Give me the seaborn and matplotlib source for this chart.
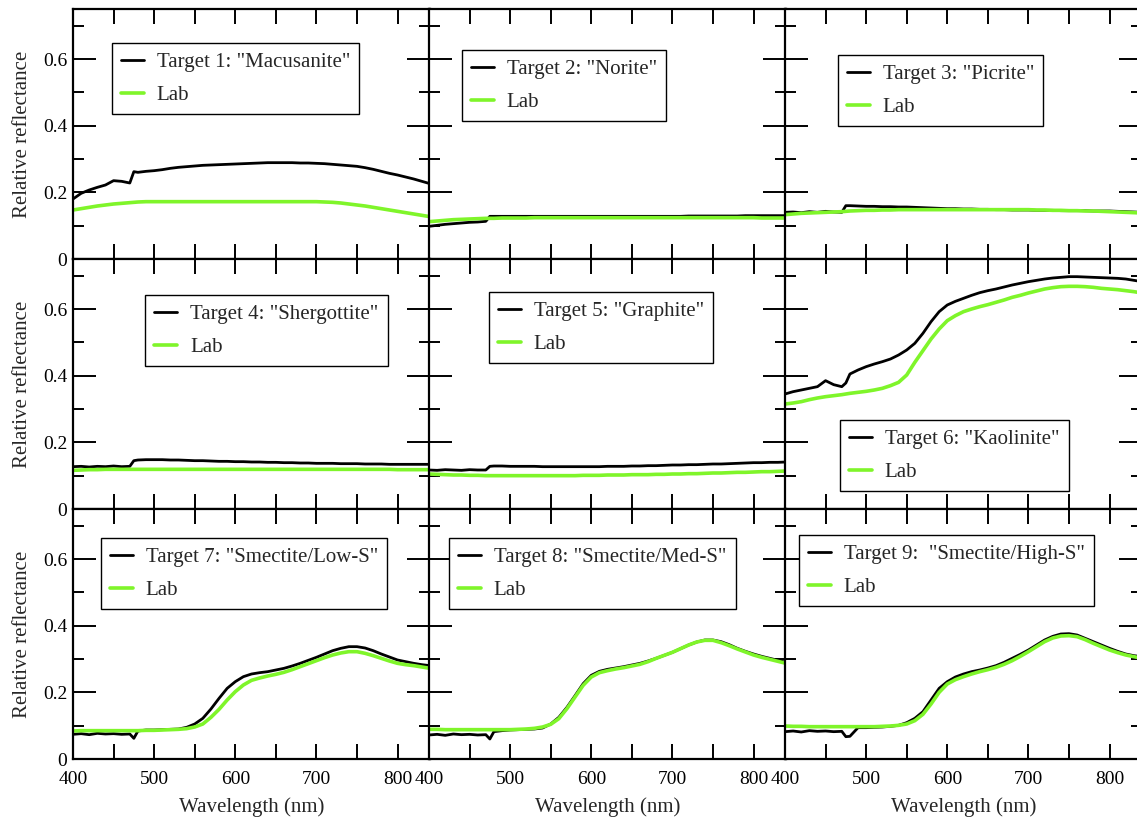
import matplotlib
matplotlib.use("Agg")
import matplotlib.pyplot as plt
import seaborn as sns
from matplotlib.ticker import MultipleLocator, FixedFormatter, FixedLocator

sns.set_theme(style="ticks")
plt.rcParams["font.family"] = ["Liberation Serif", "DejaVu Serif"]

# wavelength grid (nm) at ~10 nm steps
WAVELENGTH = [400, 410, 420, 430, 440, 450, 460, 470, 475,
              480, 490, 500, 510, 520, 530, 540, 550, 560, 570,
              580, 590, 600, 610, 620, 630, 640, 650, 660, 670,
              680, 690, 700, 710, 720, 730, 740, 750, 760, 770,
              780, 790, 800, 810, 820, 830, 840]

LABELS = ['Target 1: "Macusanite"', 'Target 2: "Norite"', 'Target 3: "Picrite"',
          'Target 4: "Shergottite"', 'Target 5: "Graphite"', 'Target 6: "Kaolinite"',
          'Target 7: "Smectite/Low-S"', 'Target 8: "Smectite/Med-S"',
          'Target 9:  "Smectite/High-S"']

target_1 = [0.180, 0.197, 0.207, 0.215, 0.222, 0.235, 0.233, 0.228, 0.262,
            0.260, 0.263, 0.265, 0.268, 0.272, 0.275, 0.277, 0.279, 0.281, 0.282,
            0.283, 0.284, 0.285, 0.286, 0.287, 0.288, 0.289, 0.289, 0.289, 0.289,
            0.288, 0.288, 0.287, 0.286, 0.284, 0.282, 0.280, 0.278, 0.274, 0.269,
            0.263, 0.257, 0.252, 0.246, 0.240, 0.233, 0.226]
lab_1 = [0.147, 0.151, 0.155, 0.159, 0.162, 0.165, 0.167, 0.169, 0.170,
         0.171, 0.172, 0.172, 0.172, 0.172, 0.172, 0.172, 0.172, 0.172, 0.172,
         0.172, 0.172, 0.172, 0.172, 0.172, 0.172, 0.172, 0.172, 0.172, 0.172,
         0.172, 0.172, 0.172, 0.171, 0.170, 0.168, 0.165, 0.162, 0.159, 0.155,
         0.151, 0.147, 0.143, 0.139, 0.135, 0.131, 0.127]

target_2 = [0.098, 0.101, 0.104, 0.106, 0.108, 0.110, 0.111, 0.113, 0.128,
            0.128, 0.128, 0.128, 0.128, 0.128, 0.128, 0.128, 0.128, 0.128, 0.128,
            0.128, 0.128, 0.128, 0.128, 0.128, 0.128, 0.128, 0.128, 0.128, 0.128,
            0.128, 0.128, 0.128, 0.128, 0.129, 0.129, 0.129, 0.129, 0.129, 0.129,
            0.129, 0.130, 0.130, 0.130, 0.130, 0.130, 0.130]
lab_2 = [0.112, 0.114, 0.116, 0.118, 0.119, 0.120, 0.121, 0.122, 0.122,
         0.122, 0.123, 0.123, 0.123, 0.123, 0.124, 0.124, 0.124, 0.124, 0.124,
         0.124, 0.124, 0.124, 0.124, 0.124, 0.124, 0.124, 0.124, 0.124, 0.124,
         0.124, 0.124, 0.124, 0.124, 0.124, 0.124, 0.124, 0.124, 0.124, 0.124,
         0.124, 0.124, 0.124, 0.123, 0.123, 0.123, 0.123]

target_3 = [0.140, 0.141, 0.139, 0.142, 0.140, 0.143, 0.141, 0.140, 0.160,
            0.160, 0.159, 0.158, 0.158, 0.157, 0.157, 0.156, 0.156, 0.155, 0.154,
            0.153, 0.152, 0.151, 0.151, 0.150, 0.150, 0.149, 0.149, 0.148, 0.148,
            0.147, 0.147, 0.147, 0.146, 0.146, 0.146, 0.145, 0.145, 0.145, 0.145,
            0.144, 0.144, 0.144, 0.143, 0.142, 0.141, 0.140]
lab_3 = [0.133, 0.135, 0.137, 0.138, 0.139, 0.140, 0.141, 0.142, 0.143,
         0.144, 0.145, 0.146, 0.146, 0.147, 0.147, 0.148, 0.148, 0.148, 0.148,
         0.148, 0.148, 0.148, 0.148, 0.148, 0.148, 0.148, 0.148, 0.148, 0.148,
         0.148, 0.148, 0.148, 0.147, 0.147, 0.146, 0.146, 0.145, 0.145, 0.144,
         0.144, 0.143, 0.142, 0.141, 0.140, 0.139, 0.138]

target_4 = [0.127, 0.128, 0.126, 0.128, 0.127, 0.129, 0.127, 0.128, 0.145,
            0.147, 0.148, 0.148, 0.148, 0.147, 0.147, 0.146, 0.145, 0.145, 0.144,
            0.143, 0.143, 0.142, 0.142, 0.141, 0.141, 0.140, 0.140, 0.139, 0.139,
            0.138, 0.138, 0.137, 0.137, 0.137, 0.136, 0.136, 0.136, 0.135, 0.135,
            0.135, 0.134, 0.134, 0.134, 0.134, 0.134, 0.134]
lab_4 = [0.116, 0.117, 0.118, 0.118, 0.119, 0.119, 0.119, 0.119, 0.119,
         0.119, 0.119, 0.119, 0.119, 0.119, 0.119, 0.119, 0.119, 0.119, 0.119,
         0.119, 0.119, 0.119, 0.119, 0.119, 0.119, 0.119, 0.119, 0.119, 0.119,
         0.119, 0.119, 0.119, 0.119, 0.119, 0.119, 0.119, 0.119, 0.119, 0.119,
         0.119, 0.119, 0.118, 0.118, 0.118, 0.118, 0.118]

target_5 = [0.117, 0.116, 0.118, 0.117, 0.116, 0.118, 0.117, 0.117, 0.128,
            0.129, 0.129, 0.128, 0.128, 0.128, 0.128, 0.127, 0.127, 0.127, 0.127,
            0.127, 0.127, 0.127, 0.127, 0.128, 0.128, 0.128, 0.129, 0.129, 0.130,
            0.130, 0.131, 0.132, 0.132, 0.133, 0.133, 0.134, 0.135, 0.135, 0.136,
            0.137, 0.138, 0.139, 0.139, 0.140, 0.140, 0.141]
lab_5 = [0.105, 0.104, 0.103, 0.102, 0.102, 0.101, 0.101, 0.100, 0.100,
         0.100, 0.100, 0.100, 0.100, 0.100, 0.100, 0.100, 0.100, 0.100, 0.100,
         0.100, 0.101, 0.101, 0.101, 0.102, 0.102, 0.102, 0.103, 0.103, 0.103,
         0.104, 0.104, 0.105, 0.105, 0.106, 0.106, 0.107, 0.108, 0.108, 0.109,
         0.110, 0.110, 0.111, 0.112, 0.112, 0.113, 0.114]

target_6 = [0.345, 0.352, 0.357, 0.362, 0.367, 0.385, 0.373, 0.367, 0.378,
            0.405, 0.417, 0.427, 0.435, 0.442, 0.450, 0.462, 0.477, 0.497, 0.527,
            0.562, 0.592, 0.612, 0.623, 0.632, 0.641, 0.649, 0.655, 0.660, 0.666,
            0.672, 0.677, 0.682, 0.686, 0.690, 0.693, 0.695, 0.697, 0.697, 0.696,
            0.695, 0.694, 0.693, 0.692, 0.690, 0.686, 0.682]
lab_6 = [0.315, 0.318, 0.322, 0.328, 0.333, 0.337, 0.340, 0.343, 0.345,
         0.347, 0.350, 0.353, 0.357, 0.362, 0.370, 0.380, 0.402, 0.440, 0.475,
         0.510, 0.540, 0.565, 0.580, 0.592, 0.600, 0.607, 0.613, 0.620, 0.627,
         0.635, 0.641, 0.648, 0.654, 0.660, 0.664, 0.667, 0.668, 0.668, 0.667,
         0.665, 0.662, 0.660, 0.658, 0.655, 0.652, 0.648]

target_7 = [0.074, 0.076, 0.073, 0.077, 0.075, 0.076, 0.074, 0.075, 0.062,
            0.084, 0.087, 0.087, 0.088, 0.089, 0.090, 0.095, 0.105, 0.122, 0.150,
            0.182, 0.212, 0.232, 0.247, 0.255, 0.259, 0.262, 0.267, 0.272, 0.279,
            0.287, 0.296, 0.305, 0.315, 0.325, 0.332, 0.337, 0.337, 0.333, 0.325,
            0.315, 0.306, 0.297, 0.292, 0.287, 0.283, 0.280]
lab_7 = [0.084, 0.085, 0.085, 0.085, 0.085, 0.085, 0.085, 0.085, 0.085,
         0.085, 0.086, 0.086, 0.087, 0.088, 0.089, 0.091, 0.096, 0.105, 0.125,
         0.149, 0.177, 0.202, 0.222, 0.236, 0.243, 0.249, 0.254, 0.260, 0.268,
         0.277, 0.286, 0.295, 0.304, 0.312, 0.318, 0.322, 0.322, 0.317, 0.310,
         0.302, 0.294, 0.287, 0.283, 0.280, 0.276, 0.272]

target_8 = [0.072, 0.074, 0.071, 0.075, 0.073, 0.074, 0.072, 0.073, 0.060,
            0.082, 0.085, 0.087, 0.088, 0.089, 0.090, 0.093, 0.105, 0.125, 0.155,
            0.190, 0.226, 0.251, 0.263, 0.269, 0.273, 0.277, 0.282, 0.287, 0.294,
            0.302, 0.311, 0.320, 0.331, 0.342, 0.351, 0.357, 0.357, 0.352, 0.343,
            0.332, 0.323, 0.315, 0.308, 0.302, 0.296, 0.290]
lab_8 = [0.089, 0.089, 0.088, 0.088, 0.088, 0.088, 0.088, 0.088, 0.088,
         0.088, 0.088, 0.088, 0.089, 0.090, 0.092, 0.096, 0.104, 0.121, 0.151,
         0.186, 0.221, 0.246, 0.259, 0.265, 0.270, 0.274, 0.279, 0.284, 0.292,
         0.302, 0.311, 0.320, 0.331, 0.342, 0.351, 0.356, 0.356, 0.349, 0.340,
         0.330, 0.321, 0.312, 0.305, 0.299, 0.293, 0.287]

target_9 = [0.082, 0.084, 0.081, 0.085, 0.083, 0.084, 0.082, 0.083, 0.067,
            0.068, 0.094, 0.094, 0.095, 0.096, 0.098, 0.101, 0.109, 0.122, 0.142,
            0.177, 0.212, 0.232, 0.246, 0.255, 0.262, 0.267, 0.273, 0.280, 0.290,
            0.302, 0.314, 0.327, 0.342, 0.357, 0.368, 0.375, 0.376, 0.372, 0.362,
            0.352, 0.342, 0.332, 0.323, 0.315, 0.310, 0.307]
lab_9 = [0.099, 0.098, 0.098, 0.097, 0.097, 0.097, 0.097, 0.097, 0.097,
         0.097, 0.097, 0.097, 0.097, 0.098, 0.099, 0.101, 0.105, 0.115, 0.134,
         0.165, 0.200, 0.225, 0.238, 0.247, 0.255, 0.262, 0.268, 0.275, 0.284,
         0.295, 0.308, 0.322, 0.337, 0.352, 0.363, 0.369, 0.370, 0.367, 0.358,
         0.347, 0.337, 0.327, 0.319, 0.312, 0.307, 0.302]

TARGETS = [target_1, target_2, target_3, target_4, target_5, target_6,
           target_7, target_8, target_9]
LABS = [lab_1, lab_2, lab_3, lab_4, lab_5, lab_6, lab_7, lab_8, lab_9]

# upper-left corner of each legend box, in axes fraction
LEGEND_POS = [(0.109, 0.864), (0.092, 0.836), (0.148, 0.816),
              (0.202, 0.856), (0.168, 0.868), (0.154, 0.356),
              (0.078, 0.884), (0.056, 0.884), (0.039, 0.896)]

GREEN = "#7ff52a"
W, H = 1137, 817

fig = plt.figure(figsize=(W / 100, H / 100), dpi=100)
col_x = [73, 429, 785]
row_top = [9, 259, 509]
ax_w, ax_h = 357, 250

for i in range(9):
    r, c = divmod(i, 3)
    ax = fig.add_axes([col_x[c] / W, (H - row_top[r] - ax_h) / H, ax_w / W, ax_h / H])
    sns.lineplot(x=WAVELENGTH, y=TARGETS[i], ax=ax, color="black", linewidth=2.0,
                 estimator=None, label=LABELS[i])
    sns.lineplot(x=WAVELENGTH, y=LABS[i], ax=ax, color=GREEN, linewidth=2.6,
                 estimator=None, label="Lab")
    ax.set_xlim(400, 840)
    ax.set_ylim(0, 0.75)

    ax.xaxis.set_major_locator(MultipleLocator(100))
    ax.xaxis.set_minor_locator(MultipleLocator(50))
    ax.yaxis.set_major_locator(FixedLocator([0, 0.2, 0.4, 0.6]))
    ax.yaxis.set_minor_locator(FixedLocator([0.1, 0.3, 0.5, 0.7]))
    ax.yaxis.set_major_formatter(FixedFormatter(["0", "0.2", "0.4", "0.6"]))
    ax.tick_params(axis="both", which="both", direction="in", top=True, right=True,
                   width=1.4, colors="black", labelsize=14)
    ax.tick_params(axis="x", which="both", length=11, pad=9)
    ax.tick_params(axis="y", which="major", length=16.5, pad=4)
    ax.tick_params(axis="y", which="minor", length=8)
    for sp in ax.spines.values():
        sp.set_linewidth(1.6)
        sp.set_color("black")

    if c == 0:
        ax.set_ylabel("Relative reflectance", fontsize=15, labelpad=8)
    else:
        ax.set_ylabel("")
        ax.tick_params(axis="y", labelleft=False)
    if r == 2:
        ax.set_xlabel("Wavelength (nm)", fontsize=15, labelpad=6)
    else:
        ax.set_xlabel("")
        ax.tick_params(axis="x", labelbottom=False)

    leg = ax.legend(loc="upper left", bbox_to_anchor=LEGEND_POS[i], borderaxespad=0,
                    fancybox=False, edgecolor="black", framealpha=1, fontsize=15,
                    handlelength=1.1, handletextpad=0.6, borderpad=0.45,
                    labelspacing=0.65)
    leg.get_frame().set_linewidth(1.0)

fig.savefig("out.png", dpi=100)
